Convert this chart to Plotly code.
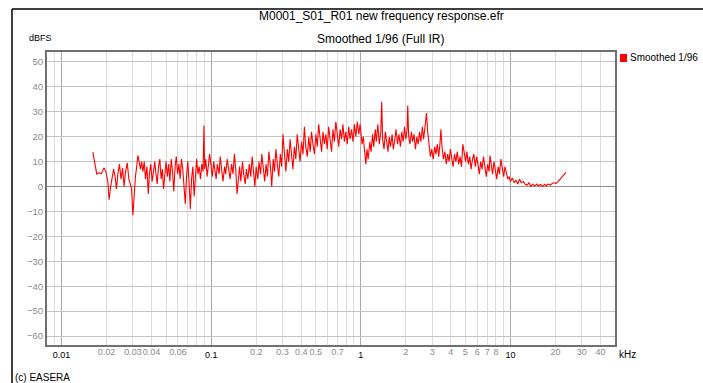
import plotly.graph_objects as go
import math

# ---------------- data ----------------
freq_khz = [
    0.0162, 0.0168, 0.0172, 0.0178, 0.0185, 0.0192, 0.0198, 0.0204, 0.0208, 0.0213,
    0.0218, 0.0223, 0.0228, 0.0233, 0.0238, 0.0244, 0.0250, 0.0256, 0.0262, 0.0268,
    0.0275, 0.0282, 0.0288, 0.0294, 0.0300, 0.0306, 0.0312, 0.0318, 0.0324, 0.0330,
    0.0337, 0.0343, 0.0350, 0.0357, 0.0364, 0.0372, 0.0380, 0.0387, 0.0395, 0.0403,
    0.0411, 0.0420, 0.0428, 0.0436, 0.0445, 0.0454, 0.0463, 0.0472, 0.0481, 0.0490,
    0.0500, 0.0510, 0.0520, 0.0530, 0.0541, 0.0552, 0.0563, 0.0574, 0.0585, 0.0597,
    0.0609, 0.0621, 0.0633, 0.0646, 0.0659, 0.0672, 0.0685, 0.0698, 0.0712, 0.0726,
    0.0740, 0.0755, 0.0770, 0.0785, 0.0800, 0.0816, 0.0832, 0.0849, 0.0866, 0.0883,
    0.0895, 0.0905, 0.0920, 0.0940, 0.0958, 0.0977,
    0.100, 0.102, 0.104, 0.106, 0.108, 0.110, 0.113, 0.115, 0.118, 0.120,
    0.123, 0.125, 0.128, 0.131, 0.134, 0.137, 0.140, 0.143, 0.146, 0.149,
    0.152, 0.155, 0.158, 0.162, 0.165, 0.169, 0.172, 0.176, 0.180, 0.184,
    0.188, 0.192, 0.196, 0.200, 0.205, 0.209, 0.214, 0.218, 0.223, 0.228,
    0.233, 0.238, 0.243, 0.249, 0.254, 0.260, 0.265, 0.271, 0.277, 0.283,
    0.290, 0.296, 0.302, 0.309, 0.316, 0.323, 0.330, 0.337, 0.345, 0.352,
    0.360, 0.368, 0.376, 0.385, 0.393, 0.402, 0.411, 0.420, 0.429, 0.439,
    0.449, 0.459, 0.469, 0.479, 0.490, 0.501, 0.512, 0.523, 0.535, 0.547,
    0.559, 0.571, 0.584, 0.597, 0.610, 0.624, 0.638, 0.652, 0.666, 0.681,
    0.696, 0.712, 0.728, 0.744, 0.760, 0.777, 0.794, 0.812, 0.830, 0.849,
    0.868, 0.887, 0.907, 0.927, 0.948, 0.969, 0.990,
    1.00, 1.02, 1.04, 1.06, 1.08, 1.10, 1.12, 1.15, 1.17, 1.20,
    1.22, 1.25, 1.27, 1.30, 1.33, 1.36, 1.38, 1.40, 1.43, 1.46,
    1.49, 1.52, 1.55, 1.58, 1.62, 1.65, 1.69, 1.72, 1.76, 1.80,
    1.84, 1.88, 1.92, 1.96, 2.00, 2.04, 2.06, 2.09, 2.13, 2.18,
    2.22, 2.27, 2.32, 2.37, 2.42, 2.47, 2.52, 2.58, 2.63, 2.69,
    2.75, 2.80, 2.86, 2.92, 2.98, 3.05, 3.12, 3.18, 3.25, 3.32,
    3.39, 3.43, 3.50, 3.57, 3.65, 3.73, 3.81, 3.89, 3.97, 4.06,
    4.14, 4.23, 4.32, 4.42, 4.51, 4.61, 4.71, 4.81, 4.91, 5.02,
    5.12, 5.23, 5.35, 5.46, 5.58, 5.70, 5.82, 5.95, 6.07, 6.20,
    6.34, 6.47, 6.61, 6.75, 6.90, 7.05, 7.20, 7.30, 7.45, 7.60,
    7.77, 7.93, 8.10, 8.28, 8.45, 8.64, 8.82, 9.01, 9.20, 9.40,
    9.60, 9.80,
    10.0, 10.3, 10.6, 10.9, 11.2, 11.5, 11.8, 12.2, 12.5, 12.9,
    13.3, 13.7, 14.1, 14.5, 15.0, 15.4, 15.9, 16.4, 16.9, 17.4,
    17.9, 18.5, 19.0, 19.6, 20.2, 20.8, 21.4, 22.0, 22.6, 23.1,
    23.5,
]

level_dbfs = [
    13.8, 8, 5, 5.5, 5.2, 7.5, 6, 2, -5.3, 0,
    3, 7, 4, -1, 5, 9, 3, 7.5, 0, 6,
    9.5, 3, 1, -1, -11.5, -2, 4, 8, 12.5, 10,
    7, 10, 6, 10, 3, 8, -3, 5, 9, 2,
    7, 10, 5, 1, 8, 11, 3, 7, -1, 6,
    10, 4, 9, 2, 11, 6, -2, 8, 12, 5,
    9, 3, 11, 7, 1, -7, 4, 10, 2, -9,
    3, 8, -4, 6, 11, 5, 8, 3, 9, 6,
    24.5, 7, 11, 4, 9, 13,
    8, 4, 10, 6, 3, 9, 5, 12, 7, 2,
    8, 5, 11, 6, 3, 9, 5, 13, 7, -3,
    4, 8, 2, 10, 5, 1, 7, 3, 9, 4,
    12, 6, 0, 8, 3, 10, 5, 13, 7, 2,
    9, 4, 14, 8, 0, 11, 6, 15, 9, 4,
    13, 8, 21, 11, 6, 15, 10, 19, 12, 7,
    16, 11, 21, 14, 10, 18, 13, 24, 16, 12,
    20, 14, 22, 17, 13, 21, 16, 25, 18, 14,
    22, 17, 21, 15, 24, 19, 14, 23, 18, 26,
    20, 16, 23, 19, 25, 18, 22, 17, 24, 19,
    23, 18, 25, 20, 26, 21, 25,
    22, 17, 20, 13, 9, 15, 11, 18, 14, 21,
    16, 23, 18, 25, 17, 22, 34, 19, 15, 22,
    17, 14, 20, 16, 21, 15, 19, 23, 17, 21,
    16, 22, 18, 24, 19, 23, 32.5, 20, 17, 22,
    18, 21, 15, 20, 17, 22, 18, 24, 19, 25,
    29.5, 22, 16, 12, 15, 11, 16, 13, 17, 12,
    18, 23, 15, 11, 14, 9, 13, 10, 15, 11,
    8, 13, 10, 14, 9, 12, 8, 17, 13, 10,
    14, 9, 12, 7, 11, 13, 8, 12, 9, 5,
    10, 7, 12, 8, 4, 9, 6, 12.4, 8, 5,
    10, 6, 3, 8, 5, 11, 7, 4, 8, 5,
    3, 4,
    2, 3.5, 1.5, 2.5, 1, 3, 1.5, 2, 1, 0.5,
    1.5, 0, 1, 0.2, 1, 0.3, 0.8, 0, 0.8, 0.4,
    1, 0.6, 1.2, 1.5, 1.3, 2, 2.8, 3.5, 4.5, 5,
    5.7,
]

series_name = "Smoothed 1/96"
title_text = "M0001_S01_R01 new frequency response.efr"
subtitle_text = "Smoothed 1/96 (Full IR)"

decade_ticks = [0.01, 0.1, 1, 10]
decade_labels = ["0.01", "0.1", "1", "10"]
minor_ticks = [0.009, 0.02, 0.03, 0.04, 0.05, 0.06, 0.07, 0.08, 0.09,
               0.2, 0.3, 0.4, 0.5, 0.6, 0.7, 0.8, 0.9,
               2, 3, 4, 5, 6, 7, 8, 9, 20, 30, 40]
label_ticks = [0.02, 0.03, 0.04, 0.06, 0.2, 0.3, 0.4, 0.5, 0.7,
               2, 3, 4, 5, 6, 7, 8, 20, 30, 40]
label_texts = ["0.02", "0.03", "0.04", "0.06", "0.2", "0.3", "0.4", "0.5", "0.7",
               "2", "3", "4", "5", "6", "7", "8", "20", "30", "40"]
y_ticks = [-60, -50, -40, -30, -20, -10, 0, 10, 20, 30, 40, 50]

# ---------------- layout geometry ----------------
W, H = 703, 383
L, R, T, B = 47, 615, 52, 345
FONT = "Liberation Sans Narrow, Liberation Sans, Arial, sans-serif"
xr = [math.log10(0.008), math.log10(50)]
yr = [-63.6, 54]


def fnt(size, color="#000"):
    return dict(family=FONT, size=size, color=color)


def px(xp):
    return (xp - L) / (R - L)


def py(yp):
    return (B - yp) / (B - T)


fig = go.Figure()
fig.add_trace(go.Scatter(x=freq_khz, y=level_dbfs, mode="lines",
                         line=dict(color="#ff0000", width=1.1),
                         name=series_name, showlegend=False))
fig.add_trace(go.Scatter(x=[None], y=[None], xaxis="x2", showlegend=False,
                         hoverinfo="skip"))

fig.update_layout(
    width=W, height=H,
    margin=dict(l=L, r=W - R, t=T, b=H - B, pad=0),
    paper_bgcolor="white", plot_bgcolor="white",
    font=fnt(11),
    xaxis=dict(type="log", range=xr, tickmode="array",
               tickvals=decade_ticks, ticktext=decade_labels,
               tickfont=fnt(9, "#000"), tickangle=0,
               showgrid=True, gridcolor="#a8a8a8", gridwidth=1,
               minor=dict(tickvals=minor_ticks, showgrid=True,
                          gridcolor="#dcdcdc", gridwidth=1, ticks=""),
               showline=True, mirror=True, linecolor="#707070", linewidth=2,
               ticks="", zeroline=False, fixedrange=True),
    xaxis2=dict(type="log", range=xr, overlaying="x", anchor="y", side="bottom",
                tickmode="array", tickvals=label_ticks, ticktext=label_texts,
                tickfont=fnt(9, "#8a8a8a"), tickangle=0,
                showgrid=False, showline=False, ticks="", zeroline=False),
    yaxis=dict(range=yr, tickmode="array", tickvals=y_ticks,
               tickfont=fnt(9.5, "#8a8a8a"),
               showgrid=True, gridcolor="#c4c4c4", gridwidth=1,
               zeroline=True, zerolinecolor="#909090", zerolinewidth=1,
               showline=True, mirror=True, linecolor="#707070", linewidth=2,
               ticks="", fixedrange=True),
    showlegend=False,
)

annotations = [
    dict(text=title_text, x=px(381), y=py(16), xanchor="center", yanchor="middle",
         font=fnt(12)),
    dict(text=subtitle_text, x=px(380), y=py(39), xanchor="center", yanchor="middle",
         font=fnt(12)),
    dict(text="dBFS", x=px(27), y=py(38), xanchor="left", yanchor="middle",
         font=fnt(9)),
    dict(text=series_name, x=px(628), y=py(58), xanchor="left", yanchor="middle",
         font=fnt(10)),
    dict(text="kHz", x=px(617), y=py(354), xanchor="left", yanchor="middle",
         font=fnt(10)),
    dict(text="(c) EASERA", x=px(13), y=py(377), xanchor="left", yanchor="middle",
         font=fnt(10)),
]
for a in annotations:
    a.update(xref="paper", yref="paper", showarrow=False)
fig.update_layout(annotations=annotations)

shapes = [
    # outer frame: top and left edges
    dict(type="line", x0=px(12), x1=px(703), y0=py(9), y1=py(9),
         line=dict(color="#404040", width=2)),
    dict(type="line", x0=px(12), x1=px(12), y0=py(9), y1=py(383),
         line=dict(color="#000", width=1.5)),
    # legend swatch
    dict(type="rect", x0=px(620), x1=px(627), y0=py(54), y1=py(62),
         fillcolor="#ff0000", line=dict(width=0)),
]
for s in shapes:
    s.update(xref="paper", yref="paper", layer="above")
fig.update_layout(shapes=shapes)

fig.write_html("out.html")
